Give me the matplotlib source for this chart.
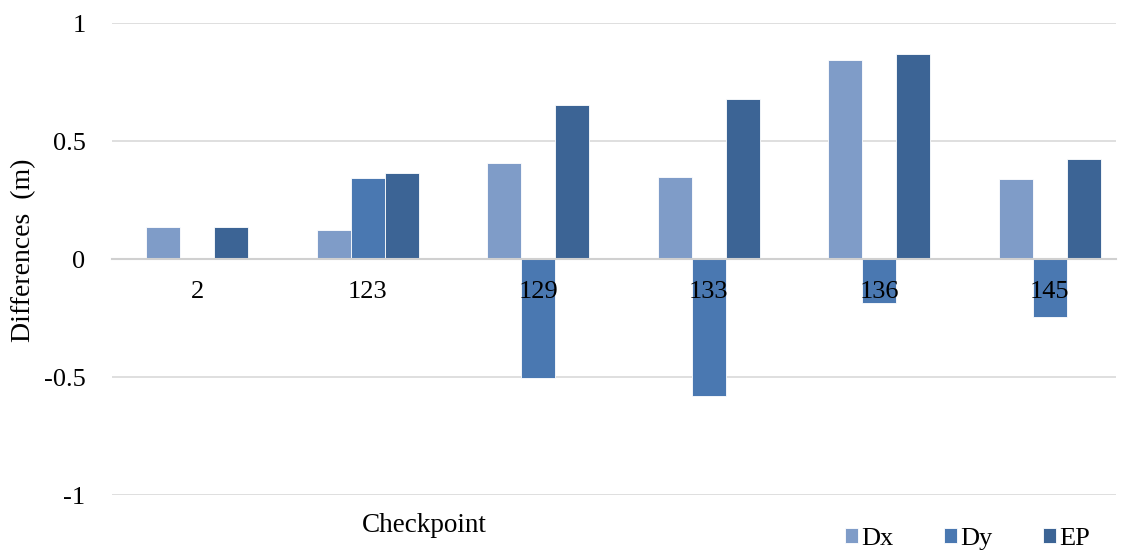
import numpy as np
import matplotlib.pyplot as plt

plt.rcParams['font.family'] = ['Liberation Serif', 'DejaVu Serif']

checkpoints = ['2', '123', '129', '133', '136', '145']
dx = [0.136, 0.123, 0.407, 0.347, 0.845, 0.341]
dy = [0.0, 0.343, -0.505, -0.580, -0.188, -0.246]
ep = [0.136, 0.364, 0.653, 0.678, 0.867, 0.424]

series = [('Dx', dx, '#7F9CC8'), ('Dy', dy, '#4A78B1'), ('EP', ep, '#3C6495')]

fig = plt.figure(figsize=(11.29, 5.5), dpi=100)
ax = fig.add_axes([0.0992, 0.1, 0.889, 0.858])

x = np.arange(len(checkpoints))
w = 0.2
for i, (name, vals, color) in enumerate(series):
    ax.bar(x + (i - 1) * w, vals, width=w, color=color, label=name,
           edgecolor='white', linewidth=0.6, zorder=2)

ax.set_xlim(-0.5, 5.386)
ax.set_ylim(-1, 1)
ax.set_yticks([-1, -0.5, 0, 0.5, 1])
ax.set_yticklabels(['-1', '-0.5', '0', '0.5', '1'])
ax.yaxis.grid(True, color='#D9D9D9', linewidth=1.2, zorder=0)
ax.set_axisbelow(True)

for s in ['top', 'right', 'left']:
    ax.spines[s].set_visible(False)
ax.spines['bottom'].set_position(('data', 0))
ax.spines['bottom'].set_color('#D0D0D0')
ax.spines['bottom'].set_linewidth(1.5)
ax.spines['bottom'].set_zorder(3)

# category labels sit on top of the negative bars
ax.set_xticks(x)
ax.set_xticklabels(checkpoints)
ax.xaxis.set_zorder(4)
ax.tick_params(axis='x', length=0, pad=16, labelsize=19)
ax.tick_params(axis='y', length=0, pad=19, labelsize=19)

fig.text(24 / 1129, 1 - 250 / 550, 'Differences  (m)', fontsize=20,
         rotation=90, ha='center', va='center')
fig.text(424 / 1129, 1 - 525 / 550, 'Checkpoint', fontsize=19.5,
         ha='center', va='center')

handles, labels = ax.get_legend_handles_labels()
fig.legend(handles, labels, loc='center', bbox_to_anchor=(0.857, 0.02), ncol=3,
           frameon=False, fontsize=19, handlelength=0.5, handleheight=0.5,
           handletextpad=0.12, columnspacing=1.9, borderpad=0, borderaxespad=0)

fig.savefig('out.png', dpi=100)
